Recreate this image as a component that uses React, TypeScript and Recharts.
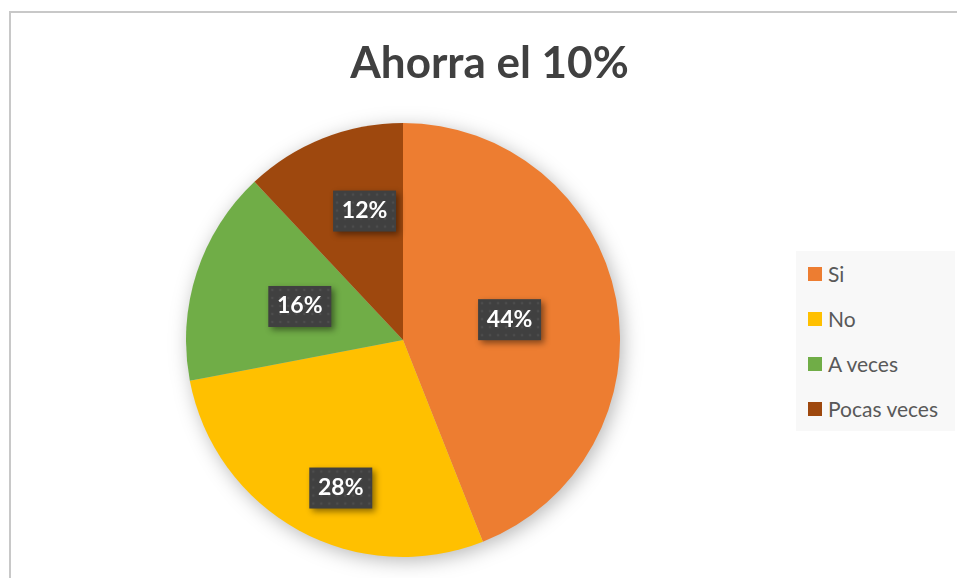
import React from 'react';
import { PieChart, Pie, Cell, Legend } from 'recharts';

const categories = ['Si', 'No', 'A veces', 'Pocas veces'];
const values = [44, 28, 16, 12];
const colors = ['#ED7D31', '#FFC000', '#70AD47', '#9E480E'];

const data = categories.map((name, i) => ({ name, value: values[i] }));

// Excel puts the labels at slightly different distances ("best fit")
const labelPlacement = [
  { r: 0.5, da: 0 },
  { r: 0.74, da: 6 },
  { r: 0.5, da: 0 },
  { r: 0.62, da: -5 },
];

const RADIAN = Math.PI / 180;

function renderLabel(props: any) {
  const { cx, cy, midAngle, outerRadius, percent, index } = props;
  const p = labelPlacement[index] || { r: 0.55, da: 0 };
  const a = (midAngle + p.da) * RADIAN;
  const x = cx + outerRadius * p.r * Math.cos(-a);
  const y = cy + outerRadius * p.r * Math.sin(-a);
  const w = 63;
  const h = 41;
  const pid = `dots-${index}`;
  return (
    <g key={`lbl-${index}`}>
      <defs>
        <pattern id={pid} x={x - w / 2} y={y - h / 2} width="8" height="8" patternUnits="userSpaceOnUse">
          <rect width="8" height="8" fill="#404040" />
          <circle cx="4" cy="4" r="1.3" fill="#4d4d4d" />
        </pattern>
      </defs>
      <rect
        x={x - w / 2}
        y={y - h / 2}
        width={w}
        height={h}
        fill={`url(#${pid})`}
        style={{ filter: 'drop-shadow(3px 3px 3px rgba(0,0,0,0.45))' }}
      />
      <text
        x={x}
        y={y + 1}
        textAnchor="middle"
        dominantBaseline="middle"
        fill="#fff"
        fontFamily="Lato, sans-serif"
        fontWeight="bold"
        fontSize={23}
      >
        {`${Math.round(percent * 100)}%`}
      </text>
    </g>
  );
}

function LegendBox(props: any) {
  const payload = (props.payload || []).filter((e: any) => e.type !== 'none');
  // keep the original category order (recharts sorts the payload by name)
  const items = categories
    .map((c) => payload.find((e: any) => e.value === c))
    .filter(Boolean);
  return (
    <div
      style={{
        background: '#F8F8F8',
        width: 159,
        height: 180,
        boxSizing: 'border-box',
        paddingLeft: 12,
        fontFamily: 'Lato, sans-serif',
        fontSize: 21,
        color: '#595959',
      }}
    >
      {items.map((entry: any) => (
        <div key={entry.value} style={{ display: 'flex', alignItems: 'center', height: 45 }}>
          <span style={{ display: 'inline-block', width: 14, height: 14, background: entry.color, marginRight: 6 }} />
          <span>{entry.value}</span>
        </div>
      ))}
    </div>
  );
}

export default function App() {
  return (
    <div style={{ position: 'absolute', left: 9, top: 11, width: 948, height: 567, overflow: 'hidden' }}>
      <div
        style={{
          position: 'relative',
          width: 1000,
          height: 600,
          border: '2px solid #C8C8C8',
          background: '#fff',
        }}
      >
        <style>{`.pie-shadow { filter: blur(7px); }`}</style>
        <div
          style={{
            position: 'absolute',
            left: 0,
            top: 22,
            width: 957,
            textAlign: 'center',
            fontFamily: 'Lato, sans-serif',
            fontWeight: 'bold',
            fontSize: 44,
            color: '#404040',
            lineHeight: '52px',
            zIndex: 2,
          }}
        >
          Ahorra el 10%
        </div>
        <PieChart width={946} height={567}>
          <Pie
            className="pie-shadow"
            data={data}
            dataKey="value"
            nameKey="name"
            cx={390}
            cy={326}
            outerRadius={217}
            startAngle={90}
            endAngle={-270}
            stroke="none"
            legendType="none"
            isAnimationActive={false}
          >
            {data.map((d) => (
              <Cell key={`s-${d.name}`} fill="rgba(0,0,0,0.28)" />
            ))}
          </Pie>
          <Pie
            data={data}
            dataKey="value"
            nameKey="name"
            cx={387}
            cy={322}
            outerRadius={217}
            startAngle={90}
            endAngle={-270}
            stroke="none"
            labelLine={false}
            label={renderLabel}
            isAnimationActive={false}
          >
            {data.map((d, i) => (
              <Cell key={d.name} fill={colors[i]} />
            ))}
          </Pie>
          <Legend
            layout="vertical"
            content={<LegendBox />}
            wrapperStyle={{ left: 785, top: 238, width: 159, height: 180 }}
          />
        </PieChart>
      </div>
    </div>
  );
}
